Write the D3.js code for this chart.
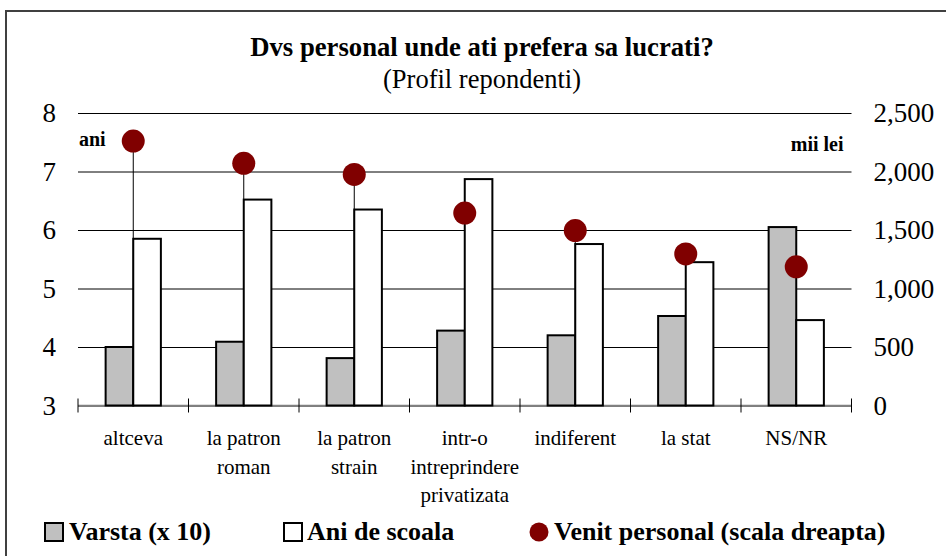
<!DOCTYPE html>
<html>
<head>
<meta charset="utf-8">
<script src="https://cdn.jsdelivr.net/npm/d3@7"></script>
<style>
  body { margin: 0; background: #fff; overflow: hidden; }
  svg { display: block; }
  svg text { font-family: "Liberation Serif", "Times New Roman", serif; fill: #000; }
</style>
</head>
<body>
<div id="chart"></div>
<script>
// data
const categories = ["altceva", "la patron\nroman", "la patron\nstrain", "intr-o\nintreprindere\nprivatizata", "indiferent", "la stat", "NS/NR"]
const varsta = [4.0, 4.09, 3.81, 4.28, 4.2, 4.53, 6.05]        // varsta / 10
const aniScoala = [5.85, 6.52, 6.35, 6.87, 5.76, 5.45, 4.46]
const venit = [2260, 2070, 1975, 1645, 1495, 1295, 1185]        // mii lei, right axis
const leftTicks = [3, 4, 5, 6, 7, 8]
const rightTicks = [0, 500, 1000, 1500, 2000, 2500]
const seriesNames = ["Varsta (x 10)", "Ani de scoala", "Venit personal (scala dreapta)"]

const width = 946, height = 556
const margin = {top: 113, right: 95, bottom: 150.5, left: 78}

const svg = d3.select("#chart").append("svg")
    .attr("width", width)
    .attr("height", height)

// outer frame (runs off the right and bottom edge)
svg.append("rect")
    .attr("x", 6).attr("y", 11)
    .attr("width", 980).attr("height", 600)
    .attr("fill", "none")
    .attr("stroke", "#404040")
    .attr("stroke-width", 2)

let x = d3.scaleBand()
    .domain(categories)
    .range([margin.left, width - margin.right + 0.5])
    .paddingInner(0.5)
    .paddingOuter(0.25)

let x1 = d3.scaleBand()
    .domain(["varsta", "ani"])
    .range([0, x.bandwidth()])

let y = d3.scaleLinear()
    .domain([3, 8])
    .range([height - margin.bottom, margin.top])

let yR = d3.scaleLinear()
    .domain([0, 2500])
    .range([height - margin.bottom, margin.top])

const plotW = x.range()[1] - x.range()[0]

// title
svg.append("text")
    .attr("x", 482).attr("y", 56)
    .attr("text-anchor", "middle")
    .style("font-size", "26.7px")
    .style("font-weight", "bold")
    .text("Dvs personal unde ati prefera sa lucrati?")

svg.append("text")
    .attr("x", 482).attr("y", 88)
    .attr("text-anchor", "middle")
    .style("font-size", "26.5px")
    .text("(Profil repondenti)")

// left axis + gridlines
svg.append("g")
    .attr("transform", `translate(${margin.left},0)`)
    .call(d3.axisLeft(y).tickValues(leftTicks).tickSize(-plotW).tickPadding(22).tickFormat(d3.format("d")))
    .call(g => g.select(".domain").remove())
    .call(g => g.selectAll(".tick line").attr("stroke", "#000"))
    .call(g => g.selectAll(".tick text").style("font-size", "27px"))

// right axis
svg.append("g")
    .attr("transform", `translate(${x.range()[1]},0)`)
    .call(d3.axisRight(yR).tickValues(rightTicks).tickSize(0).tickPadding(22).tickFormat(d3.format(",")))
    .call(g => g.select(".domain").remove())
    .call(g => g.selectAll(".tick text").style("font-size", "27px"))

// unit labels
svg.append("text")
    .attr("x", margin.left + 1).attr("y", 146)
    .style("font-size", "20px").style("font-weight", "bold")
    .text("ani")

svg.append("text")
    .attr("x", x.range()[1] - 8).attr("y", 151)
    .attr("text-anchor", "end")
    .style("font-size", "20px").style("font-weight", "bold")
    .text("mii lei")

// category axis: baseline + tick marks at the band boundaries
const base = y(3)
svg.append("line")
    .attr("x1", x.range()[0]).attr("x2", x.range()[1])
    .attr("y1", base).attr("y2", base)
    .attr("stroke", "#808080")
    .attr("stroke-width", 1.5)

svg.append("g")
  .selectAll("line")
  .data(d3.range(categories.length + 1))
  .join("line")
    .attr("x1", i => x.range()[0] + i * x.step())
    .attr("x2", i => x.range()[0] + i * x.step())
    .attr("y1", base - 7)
    .attr("y2", base + 7)
    .attr("stroke", "#000")

// drop lines under the bars
svg.append("g")
  .selectAll("line")
  .data(categories)
  .join("line")
    .attr("x1", d => x(d) + x.bandwidth() / 2)
    .attr("x2", d => x(d) + x.bandwidth() / 2)
    .attr("y1", (d, i) => yR(venit[i]))
    .attr("y2", base)
    .attr("stroke", "#000")

// bars
const group = svg.append("g")
  .selectAll("g")
  .data(categories)
  .join("g")
    .attr("transform", d => `translate(${x(d)},0)`)

group.append("rect")
    .attr("x", x1("varsta"))
    .attr("y", (d, i) => y(varsta[i]))
    .attr("width", x1.bandwidth())
    .attr("height", (d, i) => base - y(varsta[i]))
    .attr("fill", "#c0c0c0")
    .attr("stroke", "#000")
    .attr("stroke-width", 2)

group.append("rect")
    .attr("x", x1("ani"))
    .attr("y", (d, i) => y(aniScoala[i]))
    .attr("width", x1.bandwidth())
    .attr("height", (d, i) => base - y(aniScoala[i]))
    .attr("fill", "#fff")
    .attr("stroke", "#000")
    .attr("stroke-width", 2)

// income dots
svg.append("g")
  .selectAll("circle")
  .data(categories)
  .join("circle")
    .attr("cx", d => x(d) + x.bandwidth() / 2)
    .attr("cy", (d, i) => yR(venit[i]))
    .attr("r", 11.5)
    .attr("fill", "#800000")

// category labels
svg.append("g")
  .selectAll("text")
  .data(categories)
  .join("text")
    .attr("text-anchor", "middle")
    .style("font-size", "21px")
    .attr("transform", d => `translate(${x(d) + x.bandwidth() / 2},445)`)
  .selectAll("tspan")
  .data(d => d.split("\n"))
  .join("tspan")
    .attr("x", 0)
    .attr("y", (d, i) => i * 28.5)
    .text(d => d)

// legend
const legend = svg.append("g").style("font-size", "26px").style("font-weight", "bold")

legend.append("rect")
    .attr("x", 45).attr("y", 523).attr("width", 18).attr("height", 18)
    .attr("fill", "#c0c0c0").attr("stroke", "#000").attr("stroke-width", 2)
legend.append("text").attr("x", 69).attr("y", 540).text(seriesNames[0])

legend.append("rect")
    .attr("x", 284).attr("y", 523).attr("width", 18).attr("height", 18)
    .attr("fill", "#fff").attr("stroke", "#000").attr("stroke-width", 2)
legend.append("text").attr("x", 307).attr("y", 540).text(seriesNames[1])

legend.append("circle")
    .attr("cx", 539).attr("cy", 532).attr("r", 9.5)
    .attr("fill", "#800000")
legend.append("text").attr("x", 554).attr("y", 540).text(seriesNames[2])
</script>
</body>
</html>
